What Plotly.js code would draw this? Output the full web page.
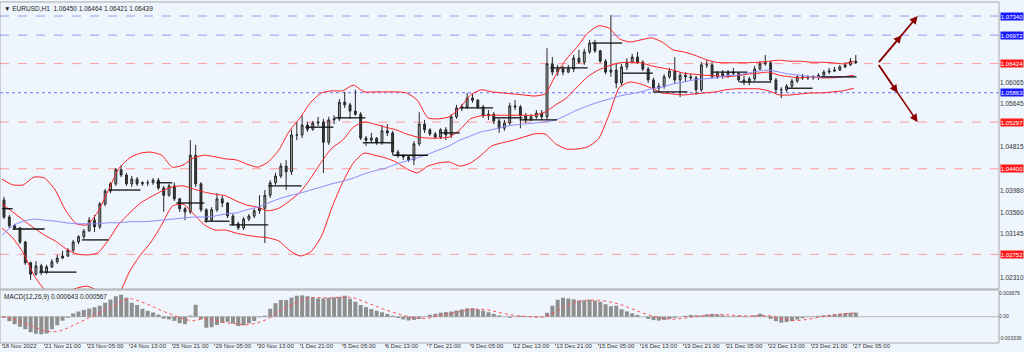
<!DOCTYPE html>
<html><head><meta charset="utf-8">
<script src="https://cdn.plot.ly/plotly-3.0.1.min.js"></script>
<style>html,body{margin:0;padding:0;background:#eef5fc;}#chart{width:1024px;height:352px;}</style>
</head><body><div id="chart"></div>
<script>
// ---- chart data (EURUSD, H1, drawn as 4-hour groups) ----
const symbolTitle = "EURUSD,H1";
const lastQuote = ["1.06450","1.06464","1.06421","1.06439"];
const hoursPerBar = 4;
const open = [1.0380,1.0347,1.0330,1.0326,1.0299,1.0259,1.0237,1.0253,1.0241,1.0251,
1.0261,1.0268,1.0272,1.0283,1.0299,1.0309,1.0320,1.0341,1.0328,1.0372,
1.0397,1.0411,1.0438,1.0428,1.0411,1.0420,1.0411,1.0413,1.0413,1.0418,
1.0403,1.0389,1.0407,1.0382,1.0363,1.0357,1.0466,1.0411,1.0361,1.0341,
1.0361,1.0382,1.0374,1.0349,1.0334,1.0326,1.0343,1.0349,1.0359,1.0364,
1.0389,1.0413,1.0426,1.0445,1.0434,1.0505,1.0505,1.0524,1.0516,1.0528,
1.0530,1.0491,1.0534,1.0536,1.0568,1.0563,1.0551,1.0545,1.0499,1.0495,
1.0499,1.0491,1.0513,1.0509,1.0472,1.0465,1.0463,1.0457,1.0488,1.0526,
1.0515,1.0507,1.0501,1.0515,1.0505,1.0540,1.0557,1.0559,1.0576,1.0572,
1.0559,1.0542,1.0545,1.0532,1.0518,1.0528,1.0561,1.0559,1.0542,1.0534,
1.0540,1.0547,1.0540,1.0642,1.0626,1.0632,1.0626,1.0632,1.0653,1.0645,
1.0665,1.0682,1.0667,1.0647,1.0626,1.0630,1.0605,1.0636,1.0645,1.0655,
1.0645,1.0632,1.0611,1.0595,1.0599,1.0617,1.0628,1.0611,1.0620,1.0617,
1.0615,1.0592,1.0640,1.0640,1.0617,1.0624,1.0619,1.0626,1.0624,1.0611,
1.0607,1.0613,1.0632,1.0642,1.0644,1.0611,1.0592,1.0592,1.0599,1.0609,
1.0617,1.0615,1.0615,1.0617,1.0620,1.0626,1.0628,1.0630,1.0636,1.0640,
1.0647];
const high = [1.0386,1.0351,1.0334,1.0328,1.0301,1.0261,1.0262,1.0257,1.0255,1.0266,
1.0274,1.0282,1.0287,1.0303,1.0312,1.0324,1.0347,1.0351,1.0376,1.0401,
1.0414,1.0441,1.0447,1.0432,1.0426,1.0424,1.0416,1.0418,1.0422,1.0422,
1.0407,1.0411,1.0413,1.0384,1.0366,1.0495,1.0486,1.0414,1.0364,1.0366,
1.0393,1.0388,1.0376,1.0353,1.0338,1.0347,1.0353,1.0363,1.0389,1.0399,
1.0418,1.0432,1.0451,1.0457,1.0515,1.0530,1.0543,1.0530,1.0532,1.0540,
1.0536,1.0540,1.0543,1.0574,1.0588,1.0567,1.0592,1.0549,1.0503,1.0509,
1.0501,1.0524,1.0526,1.0513,1.0476,1.0468,1.0466,1.0493,1.0549,1.0534,
1.0518,1.0511,1.0518,1.0520,1.0545,1.0563,1.0565,1.0586,1.0584,1.0574,
1.0563,1.0553,1.0549,1.0536,1.0534,1.0567,1.0572,1.0563,1.0547,1.0545,
1.0553,1.0553,1.0672,1.0655,1.0640,1.0638,1.0640,1.0659,1.0669,1.0671,
1.0688,1.0688,1.0669,1.0651,1.0736,1.0642,1.0642,1.0653,1.0661,1.0665,
1.0649,1.0636,1.0615,1.0605,1.0622,1.0634,1.0655,1.0626,1.0626,1.0622,
1.0619,1.0645,1.0649,1.0645,1.0628,1.0630,1.0630,1.0634,1.0626,1.0619,
1.0617,1.0638,1.0647,1.0659,1.0647,1.0615,1.0597,1.0603,1.0613,1.0620,
1.0622,1.0620,1.0620,1.0624,1.0630,1.0634,1.0636,1.0640,1.0645,1.0653,
1.0659];
const low = [1.0343,1.0326,1.0322,1.0295,1.0255,1.0226,1.0234,1.0235,1.0237,1.0249,
1.0257,1.0266,1.0270,1.0280,1.0295,1.0305,1.0320,1.0318,1.0324,1.0368,
1.0393,1.0407,1.0424,1.0407,1.0405,1.0407,1.0407,1.0407,1.0409,1.0399,
1.0357,1.0386,1.0378,1.0357,1.0341,1.0353,1.0405,1.0357,1.0336,1.0338,
1.0357,1.0366,1.0345,1.0330,1.0322,1.0322,1.0339,1.0345,1.0353,1.0297,
1.0384,1.0409,1.0422,1.0399,1.0428,1.0495,1.0499,1.0511,1.0513,1.0522,
1.0432,1.0486,1.0526,1.0532,1.0557,1.0536,1.0542,1.0495,1.0484,1.0490,
1.0486,1.0486,1.0503,1.0466,1.0461,1.0457,1.0453,1.0447,1.0484,1.0509,
1.0503,1.0497,1.0497,1.0495,1.0499,1.0536,1.0551,1.0555,1.0567,1.0555,
1.0538,1.0534,1.0526,1.0509,1.0513,1.0524,1.0553,1.0518,1.0528,1.0532,
1.0536,1.0534,1.0534,1.0620,1.0619,1.0620,1.0624,1.0626,1.0642,1.0640,
1.0661,1.0663,1.0644,1.0622,1.0617,1.0595,1.0599,1.0630,1.0644,1.0642,
1.0628,1.0605,1.0590,1.0586,1.0594,1.0613,1.0605,1.0578,1.0607,1.0609,
1.0582,1.0588,1.0634,1.0613,1.0613,1.0613,1.0615,1.0619,1.0607,1.0601,
1.0601,1.0609,1.0630,1.0638,1.0605,1.0586,1.0576,1.0588,1.0595,1.0605,
1.0611,1.0611,1.0611,1.0611,1.0619,1.0622,1.0626,1.0628,1.0634,1.0638,
1.0642];
const close = [1.0347,1.0330,1.0326,1.0299,1.0259,1.0237,1.0253,1.0241,1.0251,1.0261,
1.0268,1.0272,1.0283,1.0299,1.0309,1.0320,1.0341,1.0328,1.0372,1.0397,
1.0411,1.0438,1.0428,1.0411,1.0420,1.0411,1.0413,1.0413,1.0418,1.0403,
1.0389,1.0407,1.0382,1.0363,1.0357,1.0466,1.0411,1.0361,1.0341,1.0361,
1.0382,1.0374,1.0349,1.0334,1.0326,1.0343,1.0349,1.0359,1.0364,1.0389,
1.0413,1.0426,1.0445,1.0434,1.0505,1.0505,1.0524,1.0516,1.0528,1.0530,
1.0491,1.0534,1.0536,1.0568,1.0563,1.0551,1.0545,1.0499,1.0495,1.0499,
1.0491,1.0513,1.0509,1.0472,1.0465,1.0463,1.0457,1.0488,1.0526,1.0515,
1.0507,1.0501,1.0515,1.0505,1.0540,1.0557,1.0559,1.0576,1.0572,1.0559,
1.0542,1.0545,1.0532,1.0518,1.0528,1.0561,1.0559,1.0542,1.0534,1.0540,
1.0547,1.0540,1.0642,1.0626,1.0632,1.0626,1.0632,1.0653,1.0645,1.0665,
1.0682,1.0667,1.0647,1.0626,1.0630,1.0605,1.0636,1.0645,1.0655,1.0645,
1.0632,1.0611,1.0595,1.0599,1.0617,1.0628,1.0611,1.0620,1.0617,1.0615,
1.0592,1.0640,1.0640,1.0617,1.0624,1.0619,1.0626,1.0624,1.0611,1.0607,
1.0613,1.0632,1.0642,1.0644,1.0611,1.0592,1.0592,1.0599,1.0609,1.0617,
1.0615,1.0615,1.0617,1.0620,1.0626,1.0628,1.0630,1.0636,1.0640,1.0647,
1.0644];

// indicator lines, one value every 8 hourly bars
const hoursPerLinePoint = 8;
const bbUpper = [1.0420,1.0409,1.0409,1.0424,1.0422,1.0399,1.0359,1.0334,1.0332,1.0357,
1.0399,1.0441,1.0461,1.0470,1.0472,1.0466,1.0443,1.0447,1.0461,1.0466,
1.0463,1.0459,1.0457,1.0449,1.0443,1.0453,1.0476,1.0513,1.0538,1.0568,
1.0586,1.0590,1.0590,1.0601,1.0588,1.0588,1.0588,1.0588,1.0586,1.0572,
1.0538,1.0536,1.0540,1.0557,1.0582,1.0592,1.0588,1.0586,1.0584,1.0582,
1.0580,1.0584,1.0620,1.0651,1.0674,1.0701,1.0715,1.0711,1.0690,1.0684,
1.0688,1.0692,1.0684,1.0669,1.0665,1.0659,1.0651,1.0645,1.0644,1.0644,
1.0644,1.0645,1.0647,1.0649,1.0647,1.0647,1.0645,1.0645,1.0644,1.0642,
1.0647];
const bbMiddle = [1.0372,1.0357,1.0341,1.0326,1.0312,1.0301,1.0286,1.0276,1.0274,1.0278,
1.0303,1.0334,1.0355,1.0374,1.0386,1.0397,1.0405,1.0407,1.0401,1.0395,
1.0391,1.0388,1.0378,1.0370,1.0366,1.0359,1.0364,1.0378,1.0395,1.0422,
1.0453,1.0480,1.0495,1.0520,1.0530,1.0526,1.0520,1.0515,1.0507,1.0501,
1.0499,1.0499,1.0501,1.0515,1.0536,1.0542,1.0543,1.0543,1.0543,1.0543,
1.0543,1.0549,1.0563,1.0576,1.0597,1.0617,1.0630,1.0638,1.0644,1.0645,
1.0644,1.0638,1.0634,1.0630,1.0624,1.0622,1.0620,1.0619,1.0617,1.0619,
1.0622,1.0624,1.0626,1.0620,1.0617,1.0615,1.0617,1.0615,1.0615,1.0617,
1.0620];
const bbLower = [1.0326,1.0307,1.0278,1.0235,1.0207,1.0195,1.0203,1.0210,1.0214,1.0205,
1.0191,1.0201,1.0243,1.0274,1.0299,1.0332,1.0368,1.0372,1.0353,1.0332,
1.0322,1.0322,1.0316,1.0312,1.0309,1.0307,1.0301,1.0283,1.0272,1.0280,
1.0310,1.0366,1.0414,1.0451,1.0470,1.0466,1.0461,1.0453,1.0440,1.0432,
1.0445,1.0451,1.0453,1.0445,1.0451,1.0466,1.0484,1.0490,1.0495,1.0501,
1.0507,1.0507,1.0488,1.0478,1.0478,1.0482,1.0497,1.0543,1.0597,1.0607,
1.0603,1.0595,1.0586,1.0584,1.0582,1.0584,1.0586,1.0588,1.0592,1.0594,
1.0594,1.0594,1.0590,1.0582,1.0582,1.0584,1.0586,1.0586,1.0588,1.0590,
1.0595];
const maBlue = [1.0312,1.0330,1.0339,1.0343,1.0341,1.0339,1.0336,1.0334,1.0334,1.0334,
1.0336,1.0336,1.0338,1.0338,1.0339,1.0341,1.0343,1.0345,1.0347,1.0347,
1.0349,1.0353,1.0355,1.0361,1.0366,1.0374,1.0382,1.0388,1.0393,1.0399,
1.0405,1.0411,1.0416,1.0422,1.0430,1.0436,1.0441,1.0449,1.0455,1.0461,
1.0468,1.0476,1.0484,1.0495,1.0503,1.0511,1.0515,1.0520,1.0524,1.0526,
1.0528,1.0530,1.0534,1.0543,1.0553,1.0561,1.0568,1.0574,1.0580,1.0584,
1.0588,1.0594,1.0597,1.0603,1.0607,1.0611,1.0613,1.0615,1.0619,1.0620,
1.0624,1.0628,1.0630,1.0626,1.0622,1.0620,1.0617,1.0617,1.0617,1.0617,
1.0617];

// MACD(12,26,9)
const macdMain = [-0.00016,-0.00070,-0.00117,-0.00156,-0.00195,-0.00242,-0.00265,-0.00275,-0.00262,-0.00195,
-0.00133,-0.00062,-0.00016,0.00051,0.00081,0.00106,0.00128,0.00148,0.00172,0.00218,
0.00268,0.00320,0.00343,0.00296,0.00218,0.00183,0.00125,0.00092,0.00067,0.00034,
-0.00028,-0.00041,-0.00064,-0.00101,-0.00117,0.00016,0.00187,-0.00039,-0.00172,-0.00164,
-0.00129,-0.00097,-0.00081,-0.00105,-0.00144,-0.00136,-0.00103,-0.00066,-0.00008,0.00016,
0.00125,0.00211,0.00261,0.00261,0.00300,0.00328,0.00334,0.00320,0.00303,0.00287,
0.00285,0.00295,0.00303,0.00312,0.00328,0.00281,0.00234,0.00183,0.00150,0.00119,
0.00094,0.00069,0.00044,0.00016,-0.00019,-0.00042,-0.00058,-0.00050,-0.00034,-0.00003,
0.00031,0.00047,0.00062,0.00072,0.00081,0.00098,0.00115,0.00131,0.00133,0.00115,
0.00095,0.00070,0.00045,0.00020,0.00002,-0.00016,0.00003,0.00016,0.00005,-0.00002,
-0.00009,0.00000,0.00062,0.00172,0.00265,0.00296,0.00284,0.00271,0.00253,0.00256,
0.00265,0.00250,0.00234,0.00195,0.00164,0.00172,0.00117,0.00083,0.00053,0.00028,
0.00000,-0.00034,-0.00053,-0.00061,-0.00050,-0.00033,-0.00016,0.00000,0.00016,0.00030,
0.00022,0.00020,0.00036,0.00044,0.00036,0.00023,0.00006,0.00005,0.00014,0.00009,
0.00002,0.00022,0.00047,0.00008,-0.00034,-0.00069,-0.00092,-0.00083,-0.00069,-0.00044,
-0.00023,-0.00006,0.00005,0.00014,0.00022,0.00030,0.00039,0.00047,0.00055,0.00062,
0.000643];
const macdSignal = [0,-0.00031,-0.00094,-0.00156,-0.00218,-0.00234,-0.00187,-0.00109,-0.00031,0.00047,
0.00125,0.00218,0.00281,0.00234,0.00172,0.00094,0.00031,-0.00031,-0.00062,-0.00031,
-0.00062,-0.00094,-0.00109,-0.00125,-0.00094,-0.00031,0.00078,0.00172,0.00250,0.00296,
0.00296,0.00296,0.00304,0.00296,0.00234,0.00172,0.00109,0.00055,0.00008,-0.00023,
-0.00023,0.00016,0.00047,0.00078,0.00109,0.00117,0.00094,0.00055,0.00023,0.00008,
0,0,0.00078,0.00172,0.00234,0.00257,0.00257,0.00234,0.00195,0.00133,
0.00070,0.00016,-0.00023,-0.00039,-0.00023,0,0.00016,0.00031,0.00031,0.00019,
0.00012,0.00016,0.00016,-0.00023,-0.00055,-0.00055,-0.00031,0,0.00023,0.00044,
0.000567];
const macdLabel = "MACD(12,26,9) 0.000643 0.000567";

// daily pivot segments (hourly bar index start/end, price)
const pivotStart = [0,8,28,60,81,116,131,152,171,200,228,250,271,294,329,344,369,389,412,443,466,489,534,554,590,615];
const pivotEnd   = [8,32,56,80,104,128,152,171,200,225,249,273,294,320,344,369,391,417,440,466,489,515,560,577,609,642];
const pivotLevel = [1.0363,1.0324,1.0241,1.0303,1.0399,1.0413,1.0374,1.0339,1.0332,1.0407,1.0520,1.0538,1.0490,1.0466,1.0509,1.0557,1.0538,1.0534,1.0634,1.0682,1.0624,1.0588,1.0626,1.0607,1.0595,1.0617];

// horizontal levels
const levelsBlue = [1.07340, 1.06972];
const levelsRed = [1.06424, 1.05297, 1.04400, 1.02752];
const levelsDotted = [1.05863];
const priceTicks = [1.06065, 1.05645, 1.04815, 1.03980, 1.03560, 1.03145, 1.02310];
const macdTicks = [0.003679, 0, -0.003336];
const macdTickText = ["0.003679", "0.00", "-0.003336"];

// projection arrows (hourly bar index, price)
const projIndex = [658, 688];
const projUp = [1.06424, 1.06972, 1.07340];
const projDown = [1.06424, 1.05863, 1.05297];

// time axis labels, one every 32 hourly bars
const tickLabels = ["18 Nov 2022","21 Nov 21:00","23 Nov 05:00","24 Nov 13:00","25 Nov 21:00","29 Nov 05:00","30 Nov 13:00","1 Dec 21:00","5 Dec 05:00","6 Dec 13:00","7 Dec 21:00","9 Dec 05:00","12 Dec 13:00","13 Dec 21:00","15 Dec 05:00","16 Dec 13:00","19 Dec 21:00","21 Dec 05:00","22 Dec 13:00","23 Dec 21:00","27 Dec 05:00"];
const tickEvery = 32;

// ---- build ----
const FONT = "Liberation Sans, Arial, sans-serif";
const barX = close.map((_, k) => k * hoursPerBar + (hoursPerBar - 1) / 2);
const lineX = bbUpper.map((_, j) => j * hoursPerLinePoint);
const tickVals = tickLabels.map((_, i) => i * tickEvery);

const traces = [];
traces.push({type:'candlestick', x:barX, open:open, high:high, low:low, close:close,
  xaxis:'x', yaxis:'y', whiskerwidth:0, hoverinfo:'skip',
  increasing:{line:{color:'#262626', width:1}, fillcolor:'#a8a8a8'},
  decreasing:{line:{color:'#262626', width:1}, fillcolor:'#3a3a3a'}});
[bbUpper, bbMiddle, bbLower].forEach(arr => traces.push({type:'scatter', mode:'lines', x:lineX, y:arr,
  line:{color:'#ff2020', width:1, shape:'spline', smoothing:0.6}, hoverinfo:'skip', xaxis:'x', yaxis:'y'}));
traces.push({type:'scatter', mode:'lines', x:lineX, y:maBlue, line:{color:'#8a8aff', width:1, shape:'spline', smoothing:0.6},
  hoverinfo:'skip', xaxis:'x', yaxis:'y'});
const px = [], py = [];
pivotStart.forEach((s, i) => { px.push(s, pivotEnd[i], null); py.push(pivotLevel[i], pivotLevel[i], null); });
traces.push({type:'scatter', mode:'lines', x:px, y:py, line:{color:'#111111', width:1.3}, hoverinfo:'skip', xaxis:'x', yaxis:'y'});
traces.push({type:'bar', x:barX, y:macdMain, width:hoursPerBar*0.75, marker:{color:'#8f8f8f', line:{width:0}},
  hoverinfo:'skip', xaxis:'x', yaxis:'y2'});
traces.push({type:'scatter', mode:'lines', x:lineX, y:macdSignal, line:{color:'#ff5050', width:1, dash:'dot', shape:'spline'},
  hoverinfo:'skip', xaxis:'x', yaxis:'y2'});

const shapes = [];
const hline = (lvl, color, dash) => ({type:'line', xref:'paper', x0:0, x1:1, yref:'y', y0:lvl, y1:lvl,
  line:{color:color, width:1, dash:dash}, layer:'below'});
levelsBlue.forEach(l => shapes.push(hline(l, '#9a9af5', 'dash')));
levelsRed.forEach(l => shapes.push(hline(l, '#ff9a9a', 'dash')));
levelsDotted.forEach(l => shapes.push(hline(l, '#7070ff', 'dot')));
shapes.push({type:'line', xref:'paper', yref:'y2', x0:0, x1:1, y0:0, y1:0, line:{color:'#b8b8b8', width:1}, layer:'below'});
// panel frames
shapes.push({type:'rect', xref:'paper', yref:'paper', x0:0, x1:1, y0:0.1584, y1:1, line:{color:'#a8a8a8', width:1}});
shapes.push({type:'rect', xref:'paper', yref:'paper', x0:0, x1:1, y0:0, y1:0.1554, line:{color:'#a8a8a8', width:1}});

const annotations = [];
annotations.push({xref:'paper', yref:'paper', x:0.002, y:1, xanchor:'left', yanchor:'top', yshift:-1, showarrow:false,
  text:'\u25BC ' + symbolTitle + '  ' + lastQuote.join(' '), font:{family:FONT, size:6.5, color:'#222'}});
annotations.push({xref:'paper', yref:'paper', x:0.002, y:0.1554, xanchor:'left', yanchor:'top', yshift:-1, showarrow:false,
  text:macdLabel, font:{family:FONT, size:6.5, color:'#222'}});
const box = (lvl, bg) => ({xref:'paper', yref:'y', x:1, y:lvl, xanchor:'left', yanchor:'middle', xshift:1, showarrow:false,
  text:lvl.toFixed(5), bgcolor:bg, borderpad:0, width:22, height:7, font:{family:FONT, size:6, color:'#ffffff'}});
levelsBlue.forEach(l => annotations.push(box(l, '#1a1aff')));
levelsDotted.forEach(l => annotations.push(box(l, '#1a1aff')));
levelsRed.forEach(l => annotations.push(box(l, '#ff1a1a')));
// projection arrows
[projUp, projDown].forEach(path => {
  const x0 = projIndex[0], x1 = projIndex[1];
  const p0 = path[0], pEnd = path[path.length - 1];
  path.slice(1).forEach(p => {
    const xi = x0 + (x1 - x0) * (p - p0) / (pEnd - p0);
    annotations.push({xref:'x', yref:'y', axref:'x', ayref:'y', x:xi, y:p, ax:x0, ay:p0, text:'', showarrow:true,
      arrowhead:2, arrowsize:1, arrowwidth:1.6, arrowcolor:'#8b0000'});
  });
});

const axisFont = {family:FONT, size:6.5, color:'#333'};
const layout = {
  width:1024, height:352, margin:{l:0, r:25, t:2, b:9},
  paper_bgcolor:'#eef5fc', plot_bgcolor:'#eef5fc', showlegend:false, boxgap:0.5,
  xaxis:{range:[-1.5, 749.1], anchor:'y2', tickvals:tickVals, ticktext:tickLabels, ticks:'outside', ticklen:2,
    tickcolor:'#888', tickfont:{family:FONT, size:6, color:'#333'}, ticklabelposition:'outside right',
    tickangle:0, ticklabelstandoff:-3, automargin:false,
    showgrid:false, zeroline:false, showline:false, rangeslider:{visible:false}, fixedrange:true},
  yaxis:{domain:[0.1584, 1], range:[1.02085, 1.0761], side:'right', anchor:'x', tickvals:priceTicks,
    ticktext:priceTicks.map(v => v.toFixed(5)), ticks:'', tickfont:axisFont, showgrid:false, zeroline:false, showline:false, automargin:false},
  yaxis2:{domain:[0, 0.1554], range:[-0.0041, 0.00417], side:'right', anchor:'x', tickvals:macdTicks,
    ticktext:macdTickText, ticks:'', tickfont:{family:FONT, size:5, color:'#333'}, ticklabelstandoff:-1,
    showgrid:false, zeroline:false, showline:false, automargin:false},
  shapes:shapes, annotations:annotations
};
Plotly.newPlot('chart', traces, layout, {staticPlot:true, displayModeBar:false});
</script></body></html>
